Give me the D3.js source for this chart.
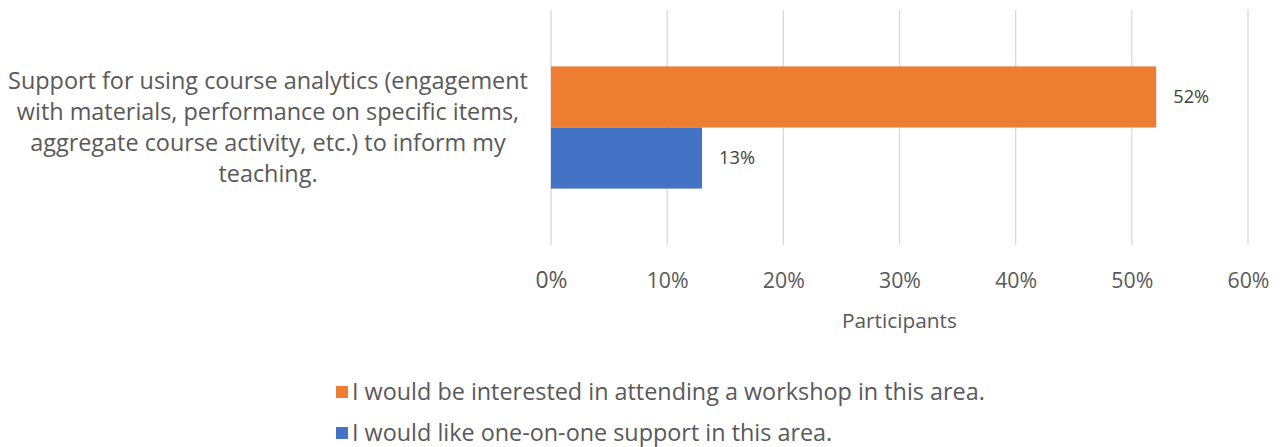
<!DOCTYPE html>
<html><head><meta charset="utf-8">
<script src="https://cdn.jsdelivr.net/npm/d3@7/dist/d3.min.js"></script>
<style>body{margin:0;background:#fff}svg{display:block}text{font-family:"Open Sans",Lato,sans-serif}</style>
</head><body><svg id="c" width="1285" height="447"></svg>
<script>
const categories = ["Support for using course analytics (engagement with materials, performance on specific items, aggregate course activity, etc.) to inform my teaching."];
const categoryLines = ["Support for using course analytics (engagement","with materials, performance on specific items,","aggregate course activity, etc.) to inform my","teaching."];
const seriesNames = ["I would be interested in attending a workshop in this area.","I would like one-on-one support in this area."];
const seriesValues = [[0.521],[0.13]];
const seriesColors = ["#ED7D31","#4472C4"];
const tickValues = [0,0.1,0.2,0.3,0.4,0.5,0.6];
const axisTitle = "Participants";

const svg = d3.select("#c");
const x = d3.scaleLinear().domain([0,0.6]).range([551,1248]);
const y0 = d3.scaleBand().domain(categories).range([10,245]).paddingInner(0.48).paddingOuter(0.24);
const y1 = d3.scaleBand().domain(seriesNames).range([0,y0.bandwidth()]);

function fit(sel, target){ // adjust font-size so width matches target
  const n = sel.node(); const fs = parseFloat(sel.attr("font-size"));
  const w = n.getComputedTextLength(); if (w>0) sel.attr("font-size", fs*target/w);
}

// gridlines
svg.append("g").selectAll("line").data(tickValues).join("line")
  .attr("x1",d=>x(d)).attr("x2",d=>x(d)).attr("y1",10).attr("y2",245)
  .attr("stroke","#D9D9D9").attr("stroke-width",1.3);

// axis
const ax = svg.append("g").attr("transform","translate(0,245)")
  .call(d3.axisBottom(x).tickValues(tickValues).tickFormat(d3.format(".0%")).tickSize(0).tickPadding(24));
ax.select(".domain").remove();
ax.selectAll("text").attr("font-size",20).attr("fill","#595959").attr("font-family","'Open Sans',sans-serif")
  .attr("dy","0.32em").attr("y",36);
ax.selectAll("text").each(function(){const s=d3.select(this); fit(s, s.text().length===2?32:42);});

svg.append("text").attr("x",(x(0)+x(0.6))/2).attr("y",321).attr("dy","0.35em").attr("text-anchor","middle")
  .attr("font-size",16).attr("fill","#595959").text(axisTitle).call(s=>fit(s,115));

// bars
const cg = svg.append("g").selectAll("g").data(categories).join("g").attr("transform",d=>`translate(0,${y0(d)})`);
seriesNames.forEach((s,i)=>{
  cg.append("rect").attr("x",x(0)).attr("y",y1(s)).attr("height",y1.bandwidth())
    .attr("width",(d,j)=>x(seriesValues[i][j])-x(0)).attr("fill",seriesColors[i]);
  cg.append("text").attr("x",(d,j)=>x(seriesValues[i][j])+17).attr("y",y1(s)+y1.bandwidth()/2)
    .attr("dy","0.35em").attr("font-size",15).attr("fill","#404040")
    .text((d,j)=>d3.format(".0%")(seriesValues[i][j])).each(function(){fit(d3.select(this),36);});
});

// category label
const lab = svg.append("text").attr("text-anchor","middle").attr("font-size",20).attr("fill","#595959");
const lc = y0(categories[0])+y0.bandwidth()/2;
categoryLines.forEach((l,i)=>{
  lab.append("tspan").attr("x",268).attr("y",lc+(i-1.5)*31).attr("dy","0.35em").text(l);
});
{ const t = lab.select("tspan").node(); const w=t.getComputedTextLength(); lab.attr("font-size",20*520/w); }

// legend
const lg = svg.append("g");
seriesNames.forEach((s,i)=>{
  const yy = 392+i*41;
  lg.append("rect").attr("x",336).attr("y",yy-6).attr("width",12).attr("height",12).attr("fill",seriesColors[i]);
  lg.append("text").attr("x",352).attr("y",yy).attr("dy","0.35em").attr("font-size",20).attr("fill","#595959").text(s)
    .each(function(){ if(i===0) fit(d3.select(this),633); });
});
{ const t0 = lg.selectAll("text").nodes(); const fs = t0[0].getAttribute("font-size"); d3.select(t0[1]).attr("font-size",fs); }
</script></body></html>
